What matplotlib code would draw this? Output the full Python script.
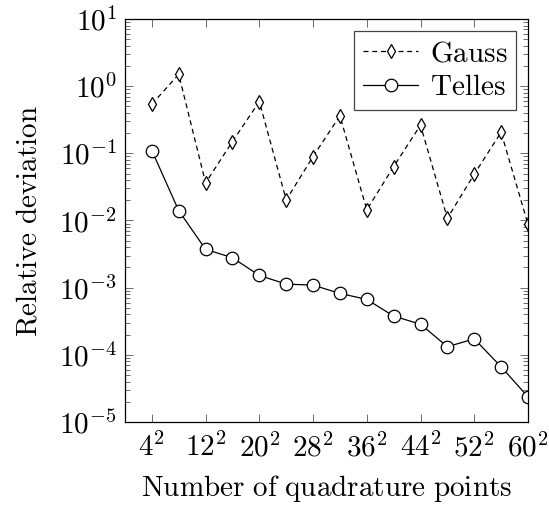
import matplotlib.pyplot as plt
from matplotlib.ticker import LogLocator, NullFormatter

plt.rcParams['mathtext.fontset'] = 'cm'
plt.rcParams['font.family'] = 'serif'
plt.rcParams['font.serif'] = ['DejaVu Serif']

# number of points per direction (total = n^2)
n = [4, 8, 12, 16, 20, 24, 28, 32, 36, 40, 44, 48, 52, 56, 60]
gauss = [0.54, 1.50, 0.0363, 0.150, 0.59, 0.0202, 0.0896, 0.362, 0.0144,
         0.0635, 0.263, 0.0108, 0.0489, 0.206, 0.00878]
telles = [0.110, 0.0140, 0.00372, 0.00279, 0.00152, 0.00113, 0.00109,
          0.000822, 0.000668, 0.000377, 0.000286, 0.000132, 0.000173,
          0.0000663, 0.0000237]
xticks = [4, 12, 20, 28, 36, 44, 52, 60]

fig = plt.figure(figsize=(5.49, 5.08), dpi=100)
ax = fig.add_axes([0.2277, 0.1693, 0.734, 0.7933])

ax.plot(n, gauss, color='black', lw=0.9, linestyle=(0, (4, 3)),
        marker='d', markersize=7, markerfacecolor='white',
        markeredgewidth=0.9, label=r'$\mathrm{Gauss}$')
ax.plot(n, telles, color='black', lw=0.9, marker='o', markersize=9,
        markerfacecolor='white', markeredgewidth=0.9,
        label=r'$\mathrm{Telles}$')

ax.set_yscale('log')
ax.set_ylim(1e-5, 1e1)
ax.set_xlim(0, 60)

ax.set_xticks(xticks)
ax.set_xticklabels([rf'${v}^2$' for v in xticks])
ax.set_yticks([10.0 ** k for k in range(-5, 2)])
ax.set_yticklabels([rf'$10^{{{k}}}$' for k in range(-5, 2)])
ax.yaxis.set_minor_locator(LogLocator(base=10, subs=range(2, 10), numticks=20))
ax.yaxis.set_minor_formatter(NullFormatter())

ax.tick_params(axis='both', which='both', direction='in', top=True,
               right=True, labelsize=21, width=0.6, color='#555555')
ax.tick_params(which='major', length=6)
ax.tick_params(which='minor', length=3.5)
ax.tick_params(axis='x', pad=8)
ax.tick_params(axis='y', pad=6)
for s in ax.spines.values():
    s.set_linewidth(0.9)

ax.set_xlabel(r'$\mathrm{Number\ of\ quadrature\ points}$', fontsize=21,
              labelpad=8)
ax.set_ylabel(r'$\mathrm{Relative\ deviation}$', fontsize=21, labelpad=12)

leg = ax.legend(loc='upper right', fontsize=21, fancybox=False,
                framealpha=1, edgecolor='#444444', handlelength=1.9,
                handletextpad=0.4, borderpad=0.3, labelspacing=0.2,
                borderaxespad=0.4)
leg.get_frame().set_linewidth(0.9)

fig.savefig('out.png', dpi=100)
